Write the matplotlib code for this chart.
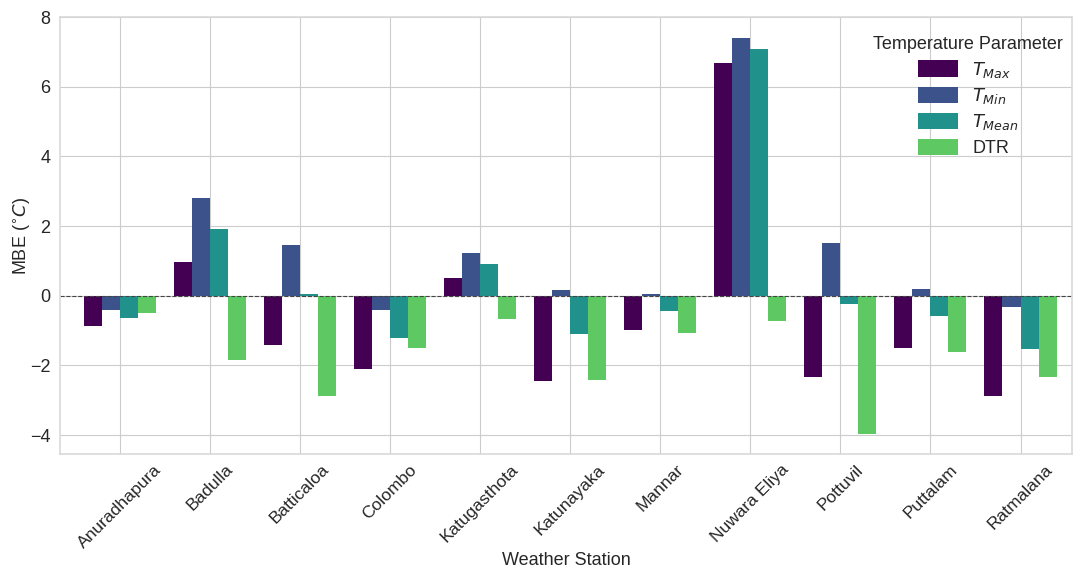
import numpy as np
import matplotlib.pyplot as plt
import seaborn as sns

stations = ['Anuradhapura', 'Badulla', 'Batticaloa', 'Colombo', 'Katugasthota',
            'Katunayaka', 'Mannar', 'Nuwara Eliya', 'Pottuvil', 'Puttalam', 'Ratmalana']

t_max = [-0.86, 0.98, -1.41, -2.11, 0.50, -2.44, -0.99, 6.68, -2.33, -1.49, -2.87]
t_min = [-0.41, 2.82, 1.47, -0.40, 1.24, 0.16, 0.05, 7.41, 1.51, 0.20, -0.32]
t_mean = [-0.63, 1.91, 0.06, -1.22, 0.91, -1.11, -0.45, 7.09, -0.25, -0.58, -1.54]
dtr = [-0.51, -1.85, -2.87, -1.49, -0.66, -2.41, -1.06, -0.72, -3.98, -1.61, -2.33]

series = [t_max, t_min, t_mean, dtr]
labels = ['$T_{Max}$', '$T_{Min}$', '$T_{Mean}$', 'DTR']
colors = ['#440154', '#3b528b', '#21918c', '#5ec962']

sns.set_style('whitegrid')
plt.rcParams['font.family'] = ['Liberation Sans', 'DejaVu Sans']
plt.rcParams['mathtext.fontset'] = 'dejavusans'

fig = plt.figure(figsize=(10.74, 5.72), dpi=100)
ax = fig.add_axes([0.056, 0.206, 0.942, 0.764])

x = np.arange(len(stations))
width = 0.2
for i, (vals, lab, col) in enumerate(zip(series, labels, colors)):
    ax.bar(x + (i - 1.5) * width, vals, width, label=lab, color=col, linewidth=0)

ax.axhline(0, color='#444444', linestyle='--', linewidth=0.8)

ax.set_xticks(x)
ax.set_xticklabels(stations, rotation=45, ha='center', fontsize=12.5)
ax.set_xlim(-0.66, 10.57)
ax.set_ylim(-4.55, 8)
ax.set_yticks([-4, -2, 0, 2, 4, 6, 8])
ax.tick_params(axis='y', labelsize=13)
ax.tick_params(axis='both', colors='#262626')
ax.tick_params(axis='x', pad=2)
ax.set_xlabel('Weather Station', fontsize=13)
ax.xaxis.set_label_coords(0.5, -0.225)
ax.set_ylabel('MBE ($^{\\circ}C$)', fontsize=13, labelpad=-2)

for s in ax.spines.values():
    s.set_color('#d9d9d9')
    s.set_linewidth(1.2)

ax.legend(title='Temperature Parameter', loc='upper right', bbox_to_anchor=(1.004, 0.985),
          frameon=False, fontsize=13, title_fontsize=13, handleheight=1.0,
          handlelength=2.2, labelspacing=0.35, borderaxespad=0.3)

fig.savefig('out.png', dpi=100)
